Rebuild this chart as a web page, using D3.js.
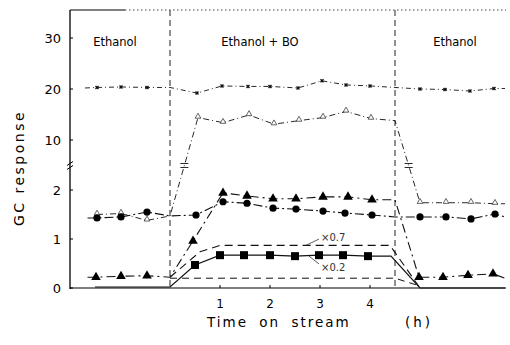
<!DOCTYPE html>
<html>
<head>
<meta charset="utf-8">
<script src="https://cdn.jsdelivr.net/npm/d3@7"></script>
<style>
  html, body { margin: 0; padding: 0; background: #fff; }
  #chart { width: 510px; height: 345px; }
</style>
</head>
<body>
<div id="chart"></div>
<script>
// [time (h), GC response, has marker]
const circles = [
  [-1.65, 1.43, 0], [-1.46, 1.43, 1], [-0.98, 1.45, 1], [-0.46, 1.55, 1], [0, 1.47, 0],
  [0.52, 1.49, 1], [1.06, 1.76, 1], [1.54, 1.73, 1], [2.06, 1.63, 1], [2.52, 1.61, 1],
  [3.06, 1.57, 1], [3.5, 1.53, 1], [4.04, 1.49, 1], [4.5, 1.45, 0],
  [5.0, 1.45, 1], [5.52, 1.45, 1], [6.02, 1.41, 1], [6.5, 1.51, 1], [6.7, 1.45, 0]
];
const trianglesFilled = [
  [-1.65, 0.22, 0], [-1.48, 0.22, 1], [-0.98, 0.24, 1], [-0.46, 0.25, 1], [0, 0.22, 0],
  [0.46, 0.96, 1], [1.06, 1.94, 1], [1.54, 1.88, 1], [2.06, 1.82, 1], [2.52, 1.82, 1],
  [3.06, 1.86, 1], [3.56, 1.86, 1], [4.04, 1.8, 1], [4.5, 1.8, 0],
  [4.98, 0.22, 1], [5.46, 0.22, 1], [5.96, 0.26, 1], [6.46, 0.29, 1], [6.7, 0.2, 0]
];
const trianglesOpen = [
  [-1.46, 1.5, 1], [-0.98, 1.52, 1], [-0.46, 1.38, 1], [0, 1.47, 0],
  [0.56, 14.4, 1], [1.06, 13.4, 1], [1.58, 14.9, 1], [2.08, 13.1, 1], [2.58, 13.8, 1],
  [3.06, 14.4, 1], [3.52, 15.6, 1], [4.02, 14.2, 1], [4.5, 13.8, 0],
  [5.0, 1.74, 1], [5.52, 1.74, 1], [6.02, 1.74, 1], [6.5, 1.72, 1], [6.7, 1.72, 0]
];
const crosses = [
  [-1.7, 20.2, 0], [-1.46, 20.3, 1], [-0.98, 20.4, 1], [-0.46, 20.3, 1], [0, 20.3, 0],
  [0.54, 19.2, 1], [1.04, 20.6, 1], [1.56, 20.5, 1], [2.0, 20.5, 1], [2.56, 20.2, 1],
  [3.04, 21.6, 1], [3.52, 20.8, 1], [4.0, 20.6, 1], [4.5, 20.3, 0],
  [5.0, 20.0, 1], [5.5, 19.9, 1], [6.0, 19.6, 1], [6.48, 20.1, 1], [6.7, 20.1, 0]
];
const squares = [
  [-1.5, 0.02, 0], [0, 0.02, 0], [0.5, 0.47, 1], [1.0, 0.67, 1], [1.48, 0.67, 1],
  [2.0, 0.67, 1], [2.5, 0.65, 1], [2.98, 0.67, 1], [3.46, 0.67, 1], [3.96, 0.65, 1],
  [4.42, 0.65, 0], [5.0, 0, 0], [6.7, 0, 0]
];
const scaled07 = [[0, 0.22, 0], [0.6, 0.74, 0], [1.0, 0.87, 0], [4.4, 0.87, 0], [5.0, 0, 0]];
const scaled02 = [[0, 0.2, 0], [4.5, 0.2, 0], [5.0, 0.04, 0]];

const xTicks = [1, 2, 3, 4];
const yTicks = [0, 1, 2, 10, 20, 30];
const switchTimes = [0, 4.5];
const regionLabels = [
  { t: -1.1, text: "Ethanol" },
  { t: 1.8, text: "Ethanol  + BO" },
  { t: 5.7, text: "Ethanol" }
];
const notes = [
  { t: 3.02, v: 1.04, text: "×0.7", to: [2.72, 0.87] },
  { t: 3.02, v: 0.43, text: "×0.2", to: [2.78, 0.65] }
];

const width = 510, height = 345;
const svg = d3.select("#chart").append("svg")
  .attr("width", width)
  .attr("height", height)
  .style("font-family", "'DejaVu Sans', sans-serif");

const x = d3.scaleLinear().domain([-2, 6.72]).range([70, 506]);
// broken axis: 0..2.5 on the bottom, 5..35 above the break
const y = d3.scaleLinear().domain([0, 2.5, 5, 35]).range([288, 165.5, 165.5, 12.5]);
const breakY = 165.5;

// === Frame ===
svg.append("line")
  .attr("x1", x(-2)).attr("x2", x(-2))
  .attr("y1", 10).attr("y2", 289)
  .attr("stroke", "#000").attr("stroke-width", 1.3);
svg.append("line")
  .attr("x1", x(-2)).attr("x2", 506)
  .attr("y1", 288).attr("y2", 288)
  .attr("stroke", "#000").attr("stroke-width", 1.1);
svg.append("line")
  .attr("x1", x(-2)).attr("x2", x(-0.9))
  .attr("y1", 10).attr("y2", 10)
  .attr("stroke", "#000").attr("stroke-width", 1.2);
svg.append("line")
  .attr("x1", x(-0.9)).attr("x2", 506)
  .attr("y1", 10).attr("y2", 10)
  .attr("stroke", "#444").attr("stroke-width", 1)
  .attr("stroke-dasharray", "1.5,2.5");

// axis break on the y axis
[-2, 2].forEach(d => {
  svg.append("line")
    .attr("x1", x(-2) - 3).attr("x2", x(-2) + 3)
    .attr("y1", breakY + d + 2).attr("y2", breakY + d - 2)
    .attr("stroke", "#000").attr("stroke-width", 1);
});

// switch lines
svg.selectAll(".switch")
  .data(switchTimes)
  .enter()
  .append("line")
  .attr("class", "switch")
  .attr("x1", d => x(d)).attr("x2", d => x(d))
  .attr("y1", 10).attr("y2", 288)
  .attr("stroke", "#222").attr("stroke-width", 1)
  .attr("stroke-dasharray", "6,4");

// === Ticks ===
svg.selectAll(".ytick")
  .data(yTicks)
  .enter()
  .append("line")
  .attr("x1", x(-2)).attr("x2", x(-2) + 3)
  .attr("y1", d => y(d)).attr("y2", d => y(d))
  .attr("stroke", "#000");
svg.selectAll(".ylab")
  .data(yTicks)
  .enter()
  .append("text")
  .attr("x", 61)
  .attr("y", d => y(d) + 5)
  .attr("text-anchor", "end")
  .style("font-size", "13px")
  .text(d => d);

svg.selectAll(".xtick")
  .data(xTicks)
  .enter()
  .append("line")
  .attr("x1", d => x(d)).attr("x2", d => x(d))
  .attr("y1", 288).attr("y2", 285)
  .attr("stroke", "#000");
svg.selectAll(".xlab")
  .data(xTicks)
  .enter()
  .append("text")
  .attr("x", d => x(d))
  .attr("y", 308)
  .attr("text-anchor", "middle")
  .style("font-size", "12px")
  .text(d => d);

// === Lines ===
const line = d3.line().x(d => x(d[0])).y(d => y(d[1]));
const series = [
  { data: crosses, dash: "5,3,1,3", w: 0.9 },
  { data: trianglesOpen, dash: "6,3,1,3", w: 0.9 },
  { data: circles, dash: "9,3,2,3", w: 1.1 },
  { data: trianglesFilled, dash: "9,4,2,4", w: 1.1 },
  { data: scaled07, dash: "8,5", w: 1.1 },
  { data: scaled02, dash: "7,5", w: 1 },
  { data: squares, dash: null, w: 1.2 }
];
series.forEach(s => {
  svg.append("path")
    .datum(s.data)
    .attr("d", line)
    .attr("fill", "none")
    .attr("stroke", "#111")
    .attr("stroke-width", s.w)
    .attr("stroke-dasharray", s.dash);
});

// little break marks where the open-triangle line crosses the break
d3.pairs(trianglesOpen).forEach(([a, b]) => {
  const ya = y(a[1]), yb = y(b[1]);
  if ((ya - breakY) * (yb - breakY) < 0) {
    const f = (breakY - ya) / (yb - ya);
    const cx = x(a[0]) + f * (x(b[0]) - x(a[0]));
    [-2, 2].forEach(o => {
      svg.append("line")
        .attr("x1", cx - 4).attr("x2", cx + 4)
        .attr("y1", breakY + o).attr("y2", breakY + o)
        .attr("stroke", "#111").attr("stroke-width", 0.9);
    });
  }
});

// === Markers ===
const marked = arr => arr.filter(d => d[2]);
const tri = d3.symbol().type(d3.symbolTriangle);

svg.selectAll(".cross")
  .data(marked(crosses))
  .enter()
  .append("path")
  .attr("transform", d => `translate(${x(d[0])},${y(d[1])}) rotate(45)`)
  .attr("d", d3.symbol().type(d3.symbolCross).size(10))
  .attr("fill", "#111");

svg.selectAll(".topen")
  .data(marked(trianglesOpen))
  .enter()
  .append("path")
  .attr("transform", d => `translate(${x(d[0])},${y(d[1]) - 1})`)
  .attr("d", tri.size(14))
  .attr("fill", "#fff")
  .attr("stroke", "#222")
  .attr("stroke-width", 0.7);

svg.selectAll(".circ")
  .data(marked(circles))
  .enter()
  .append("circle")
  .attr("cx", d => x(d[0]))
  .attr("cy", d => y(d[1]))
  .attr("r", 3.6)
  .attr("fill", "#000");

svg.selectAll(".tfill")
  .data(marked(trianglesFilled))
  .enter()
  .append("path")
  .attr("transform", d => `translate(${x(d[0])},${y(d[1])})`)
  .attr("d", d3.symbol().type(d3.symbolTriangle).size(40))
  .attr("fill", "#000");

svg.selectAll(".sq")
  .data(marked(squares))
  .enter()
  .append("rect")
  .attr("x", d => x(d[0]) - 4)
  .attr("y", d => y(d[1]) - 4)
  .attr("width", 8)
  .attr("height", 8)
  .attr("fill", "#000");

// === Notes ===
notes.forEach(n => {
  svg.append("line")
    .attr("x1", x(n.t) - 2).attr("y1", y(n.v) + (n.v > 0.8 ? 2 : -3))
    .attr("x2", x(n.to[0])).attr("y2", y(n.to[1]))
    .attr("stroke", "#333").attr("stroke-width", 0.8);
  svg.append("text")
    .attr("x", x(n.t))
    .attr("y", y(n.v) + 4)
    .style("font-size", "10px")
    .style("fill", "#333")
    .text(n.text);
});

// === Region labels ===
svg.selectAll(".region")
  .data(regionLabels)
  .enter()
  .append("text")
  .attr("x", d => x(d.t))
  .attr("y", 46)
  .attr("text-anchor", "middle")
  .style("font-size", "11.5px")
  .text(d => d.text);

// === Axis labels ===
svg.append("text")
  .attr("x", 207)
  .attr("y", 327)
  .style("font-size", "13.5px")
  .style("letter-spacing", "2px")
  .style("word-spacing", "5px")
  .text("Time on stream");
svg.append("text")
  .attr("x", 433)
  .attr("y", 327)
  .attr("text-anchor", "end")
  .style("font-size", "13.5px")
  .style("letter-spacing", "3px")
  .text("(h)");

svg.append("text")
  .attr("transform", "translate(24, 168) rotate(-90)")
  .attr("text-anchor", "middle")
  .style("font-size", "14px")
  .style("letter-spacing", "2.5px")
  .text("GC response");
</script>
</body>
</html>
